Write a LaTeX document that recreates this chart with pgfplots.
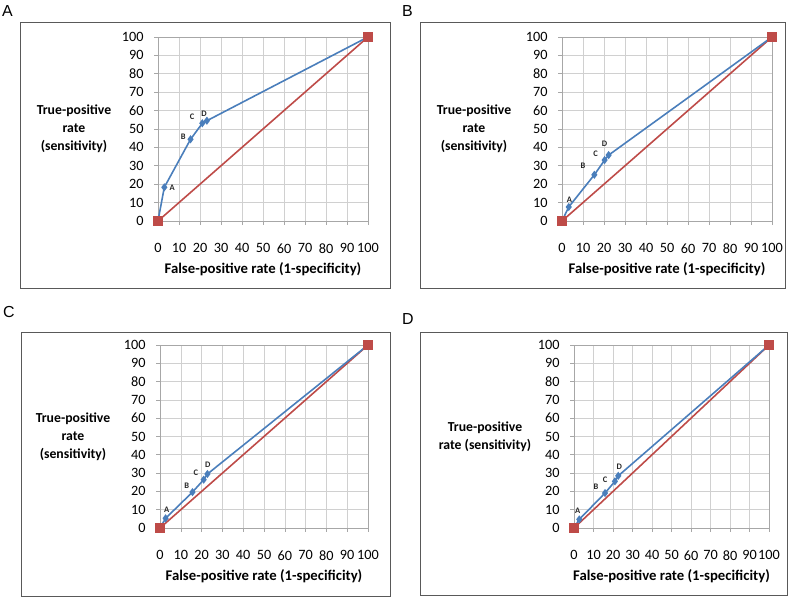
\documentclass[border=0pt]{standalone}
\usepackage{fontspec}
\setmainfont{Carlito}
\newfontfamily\letterfont{Liberation Sans}
\usepackage{pgfplots}
\pgfplotsset{compat=1.18}
\definecolor{rocblue}{HTML}{4A7EBB}
\definecolor{rocred}{HTML}{BE4B48}
\definecolor{gridgray}{HTML}{D0D0D0}

\pgfplotsset{
 rocpanel/.style={
  scale only axis, xmin=0, xmax=100, ymin=0, ymax=100,
  xtick={0,10,...,100}, ytick={0,10,...,100},
  grid=major, major grid style={gridgray, line width=0.6pt},
  axis line style={gridgray!80!black, line width=0.6pt},
  tick align=outside, major tick length=4bp, tick style={gridgray!80!black, line width=0.6pt},
  xtick pos=bottom, ytick pos=left,
  /pgf/number format/assume math mode=true,
  tick label style={font=\fontsize{14.3}{16}\selectfont},
  xticklabel style={yshift=-15bp},
  yticklabel style={xshift=-7bp},
  xlabel={False-positive rate (1-specificity)},
  xlabel style={font=\bfseries\fontsize{14.8}{17}\selectfont, at={(axis description cs:0.5,0)}, anchor=center, yshift=-48bp},
  ylabel style={font=\bfseries\fontsize{13.8}{18}\selectfont, rotate=-90, align=center, at={(axis description cs:0,0.5)}, anchor=center},
 },
 blueroc/.style={rocblue, line width=1.6pt, mark=diamond*, mark size=2.8bp, mark options={rocblue}},
 redroc/.style={rocred, line width=1.6pt, mark=square*, mark size=4.2bp, mark options={rocred}},
}
\newcommand{\pl}[3]{\node[font=\bfseries\fontsize{8.5}{9}\selectfont, text=black!85] at (axis cs:#1,#2) {#3};}

\begin{document}
\begin{tikzpicture}[x=1bp,y=1bp]
\useasboundingbox (0,0) rectangle (793,598);
% frames
\draw[black!65, line width=0.8pt] (20,310) rectangle (390,576);
\draw[black!65, line width=0.8pt] (420,310) rectangle (785,576);
\draw[black!65, line width=0.8pt] (21,2) rectangle (390,266);
\draw[black!65, line width=0.8pt] (420,3) rectangle (787,266);
% panel letters
\node[anchor=north west, inner sep=0pt, font=\letterfont\fontsize{16}{18}\selectfont] at (2,593) {A};
\node[anchor=north west, inner sep=0pt, font=\letterfont\fontsize{16}{18}\selectfont] at (402,593) {B};
\node[anchor=north west, inner sep=0pt, font=\letterfont\fontsize{16}{18}\selectfont] at (3,292) {C};
\node[anchor=north west, inner sep=0pt, font=\letterfont\fontsize{16}{18}\selectfont] at (402,285) {D};

% Panel A
\begin{axis}[rocpanel, at={(158bp,377bp)}, anchor=south west, width=210bp, height=184bp,
 ylabel={True-positive\\rate\\(sensitivity)}, ylabel style={xshift=-84bp}]
\addplot[redroc] coordinates {(0,0) (100,100)};
\addplot[blueroc] coordinates {(0,0) (3,18.3) (15.5,44.4) (21.1,53.1) (23.3,54.5) (100,100)};
\addplot[redroc, only marks] coordinates {(0,0) (100,100)};
\pl{6.7}{18}{A}\pl{12}{46}{B}\pl{16.3}{56.4}{C}\pl{21.9}{58.5}{D}
\end{axis}

% Panel B
\begin{axis}[rocpanel, at={(562bp,377bp)}, anchor=south west, width=210bp, height=184bp,
 ylabel={True-positive\\rate\\(sensitivity)}, ylabel style={xshift=-88bp}]
\addplot[redroc] coordinates {(0,0) (100,100)};
\addplot[blueroc] coordinates {(0,0) (3.2,7.6) (15.4,25.1) (20.3,33.1) (22.2,35.8) (100,100)};
\addplot[redroc, only marks] coordinates {(0,0) (100,100)};
\pl{3.5}{11.8}{A}\pl{10}{30}{B}\pl{16}{36.5}{C}\pl{20.3}{42.2}{D}
\end{axis}

% Panel C
\begin{axis}[rocpanel, at={(160bp,70bp)}, anchor=south west, width=208bp, height=183bp,
 ylabel={True-positive\\rate\\(sensitivity)}, ylabel style={xshift=-87bp}]
\addplot[redroc] coordinates {(0,0) (100,100)};
\addplot[blueroc] coordinates {(0,0) (2.7,5.3) (15.6,19.6) (21,26.4) (22.8,29.5) (100,100)};
\addplot[redroc, only marks] coordinates {(0,0) (100,100)};
\pl{3.2}{10}{A}\pl{12.8}{23.3}{B}\pl{17.2}{30}{C}\pl{23}{34.4}{D}
\end{axis}

% Panel D
\begin{axis}[rocpanel, at={(574bp,70bp)}, anchor=south west, width=195bp, height=183bp,
 ylabel={True-positive\\rate (sensitivity)}, ylabel style={xshift=-89bp}]
\addplot[redroc] coordinates {(0,0) (100,100)};
\addplot[blueroc] coordinates {(0,0) (2.7,4.7) (15.9,19.1) (21,25.5) (22.7,28.5) (100,100)};
\addplot[redroc, only marks] coordinates {(0,0) (100,100)};
\pl{1.9}{9.5}{A}\pl{11.3}{22.5}{B}\pl{16}{26.4}{C}\pl{23.2}{33.6}{D}
\end{axis}
\end{tikzpicture}
\end{document}
